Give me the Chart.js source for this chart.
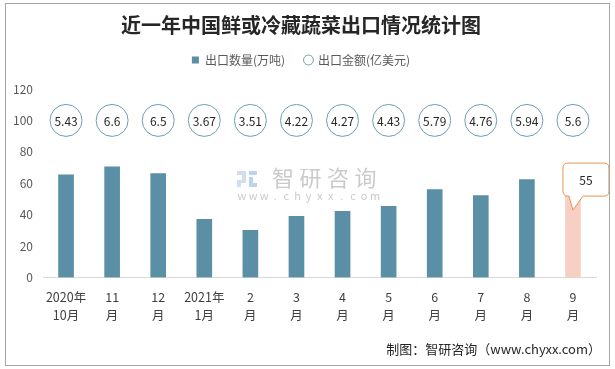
<!DOCTYPE html>
<html><head><meta charset="utf-8">
<script src="https://cdn.jsdelivr.net/npm/chart.js@4.4.1/dist/chart.umd.min.js"></script>
<style>html,body{margin:0;padding:0;background:#fff}#wrap{width:615px;height:369px;position:relative}</style>
</head><body><div id="wrap"><canvas id="c" width="615" height="369"></canvas></div>
<script>
const titleText = '近一年中国鲜或冷藏蔬菜出口情况统计图';
const categories = [["2020年","10月"],["11","月"],["12","月"],["2021年","1月"],["2","月"],["3","月"],["4","月"],["5","月"],["6","月"],["7","月"],["8","月"],["9","月"]];
const volume = [65.3, 70.5, 66.1, 37.1, 30.1, 39.0, 42.1, 45.3, 56.0, 52.2, 62.3, 55];
const amount = [5.43, 6.6, 6.5, 3.67, 3.51, 4.22, 4.27, 4.43, 5.79, 4.76, 5.94, 5.6];
const volumeLabel = '出口数量(万吨)';
const amountLabel = '出口金额(亿美元)';
const yMin = 0, yMax = 120, yStep = 20;
const amountRowValue = 100;      // y-axis level where the amount bubbles sit
const highlightIndex = 11;       // last month, highlighted with callout
const footerText = '制图：智研咨询（www.chyxx.com）';

const FONT = "'Microsoft YaHei','Noto Sans CJK SC','Noto Sans',sans-serif";
Chart.defaults.font.family = FONT;

const legendSpace = {
  id: 'legendSpace',
  beforeInit(chart) {
    const fit = chart.legend.fit;
    chart.legend.fit = function () { fit.bind(chart.legend)(); this.height += 13; };
  }
};

const watermark = {
  id: 'watermark',
  beforeDatasetsDraw(chart) {
    const ctx = chart.ctx;
    ctx.save();
    ctx.fillStyle = 'rgba(170,190,215,0.5)';
    ctx.fillRect(237, 171, 9, 4);
    ctx.fillRect(242, 175, 4, 5);
    ctx.fillRect(237, 180, 9, 3);
    ctx.fillRect(237, 183, 4, 4);
    ctx.fillStyle = 'rgba(120,170,220,0.5)';
    ctx.fillRect(249, 171, 8, 4);
    ctx.fillRect(249, 177, 4, 10);
    ctx.fillRect(253, 183, 4, 4);
    ctx.fillStyle = 'rgba(150,150,150,0.5)';
    ctx.font = '22px ' + FONT;
    ctx.textAlign = 'center';
    ctx.textBaseline = 'middle';
    const ch = '智研咨询';
    for (let i = 0; i < ch.length; i++) ctx.fillText(ch[i], 283 + i * 27.5, 178);
    ctx.font = '11px ' + FONT;
    const w = 'www.chyxx.com';
    for (let i = 0; i < w.length; i++) ctx.fillText(w[i], 242 + i * 11.1, 196);
    ctx.restore();
  }
};

const bubbles = {
  id: 'bubbles',
  afterDatasetsDraw(chart) {
    const ctx = chart.ctx;
    const xs = chart.scales.x, ys = chart.scales.y;
    const y = ys.getPixelForValue(amountRowValue);
    const ds = chart.data.datasets[1];
    ctx.save();
    amount.forEach((v, i) => {
      const x = xs.getPixelForValue(i);
      ctx.beginPath();
      ctx.arc(x, y, 16, 0, Math.PI * 2);
      ctx.fillStyle = '#fff';
      ctx.fill();
      ctx.lineWidth = 1;
      ctx.strokeStyle = ds.borderColor;
      ctx.stroke();
      ctx.fillStyle = '#262626';
      ctx.font = '12px ' + FONT;
      ctx.textAlign = 'center';
      ctx.textBaseline = 'middle';
      ctx.fillText(String(v), x, y + 1);
    });
    const bar = chart.getDatasetMeta(0).data[highlightIndex];
    const bx = bar.x, by = bar.y;
    const L = bx - 10, T = by - 28, W = 46, H = 33, r = 5;
    ctx.beginPath();
    ctx.moveTo(L + r, T);
    ctx.lineTo(L + W - r, T);
    ctx.quadraticCurveTo(L + W, T, L + W, T + r);
    ctx.lineTo(L + W, T + H - r);
    ctx.quadraticCurveTo(L + W, T + H, L + W - r, T + H);
    ctx.lineTo(bx + 10, T + H);
    ctx.lineTo(bx, by + 19);
    ctx.lineTo(bx - 4, T + H);
    ctx.lineTo(L + r, T + H);
    ctx.quadraticCurveTo(L, T + H, L, T + H - r);
    ctx.lineTo(L, T + r);
    ctx.quadraticCurveTo(L, T, L + r, T);
    ctx.closePath();
    ctx.fillStyle = '#fff';
    ctx.fill();
    ctx.strokeStyle = '#E8954A';
    ctx.lineWidth = 1;
    ctx.stroke();
    ctx.fillStyle = '#262626';
    ctx.font = '12px ' + FONT;
    ctx.fillText(String(volume[highlightIndex]), L + W / 2, T + H / 2 + 1);
    ctx.restore();
  }
};

const frame = {
  id: 'frame',
  afterDraw(chart) {
    const ctx = chart.ctx;
    ctx.save();
    ctx.fillStyle = '#262626';
    ctx.font = '13px ' + FONT;
    ctx.textAlign = 'right';
    ctx.textBaseline = 'middle';
    ctx.fillText(footerText, 601, 349);
    ctx.strokeStyle = '#A6A6A6';
    ctx.lineWidth = 1;
    ctx.strokeRect(5.5, 3.5, 604, 362);
    ctx.restore();
  }
};

new Chart(document.getElementById('c'), {
  data: {
    labels: categories,
    datasets: [
      { type: 'bar', label: volumeLabel, data: volume,
        backgroundColor: volume.map((v, i) => i === highlightIndex ? '#F8CFC5' : '#5B8FA6'),
        barThickness: 15, pointStyle: 'rect', order: 1 },
      { type: 'line', label: amountLabel, data: amount, yAxisID: 'yAmt',
        showLine: false, pointRadius: 0, pointHoverRadius: 0, pointStyle: 'circle',
        borderColor: '#6E9DB2', backgroundColor: '#fff', borderWidth: 1, order: 2 }
    ]
  },
  options: {
    responsive: false, animation: false, devicePixelRatio: 1,
    layout: { padding: { left: 6, right: 19, top: 0, bottom: 34 } },
    plugins: {
      title: { display: true, text: titleText, color: '#262626',
        font: { size: 20, weight: 'bold' }, padding: { top: 13, bottom: -3 } },
      legend: { position: 'top',
        labels: { usePointStyle: true, boxWidth: 7, boxHeight: 7, color: '#595959',
          font: { size: 12 }, padding: 20 } },
      tooltip: { enabled: false }
    },
    scales: {
      x: { grid: { display: false, drawTicks: false }, border: { color: '#D9D9D9' },
        ticks: { color: '#404040', font: { size: 12.5, lineHeight: 1.5 }, padding: 10, maxRotation: 0, autoSkip: false } },
      y: { min: yMin, max: yMax,
        ticks: { stepSize: yStep, color: '#595959', font: { size: 12 }, padding: 10 },
        grid: { display: false, drawTicks: false }, border: { display: false },
        afterFit(s) { s.width = 37; } },
      yAmt: { display: false, min: 0, max: 10 }
    }
  },
  plugins: [legendSpace, watermark, bubbles, frame]
});
</script></body></html>
